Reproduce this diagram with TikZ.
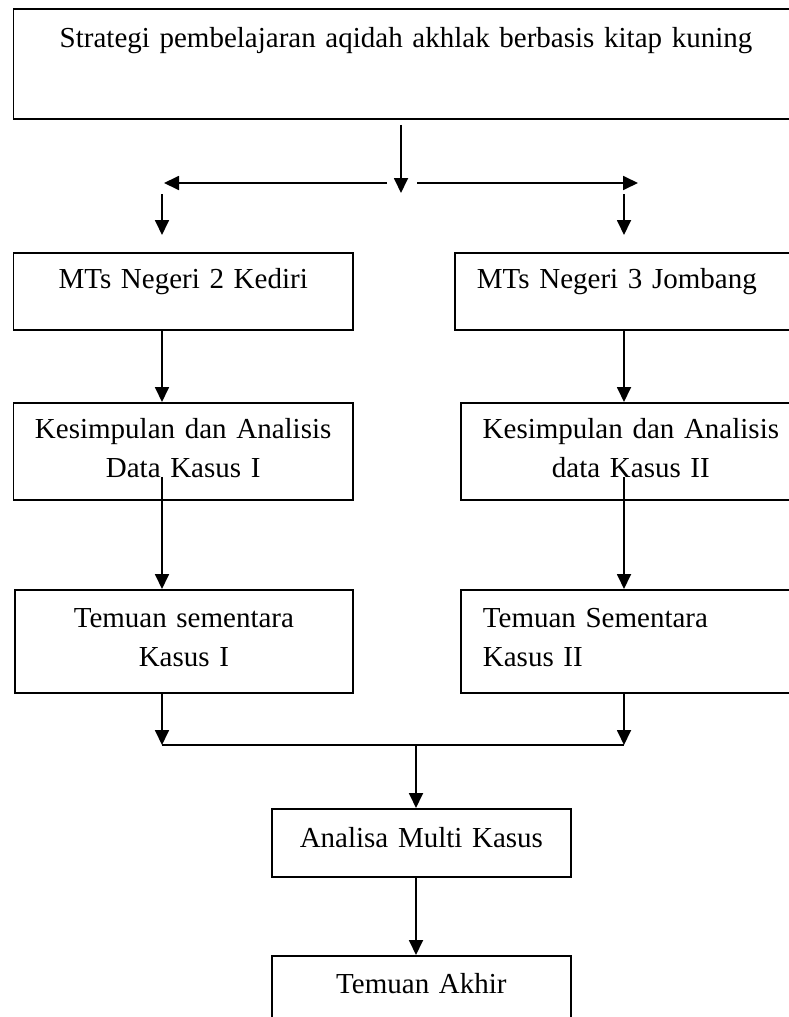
\documentclass[tikz,border=0pt]{standalone}
\usepackage{fontspec}
\setmainfont{Liberation Serif}
\usetikzlibrary{arrows.meta, positioning, calc}

\tikzset{
    box/.style={draw, line width=1.8pt, anchor=north west, inner xsep=0pt, inner ysep=0pt,
        align=center, font=\fontsize{29}{38.5}\selectfont},
    arr/.style={-{Triangle[length=15pt,width=14pt]}, line width=1.8pt},
}

\begin{document}
\begin{tikzpicture}[x=1pt, y=-1pt]
\fill[white] (0,0) rectangle (789,1017);
\useasboundingbox (0,0) rectangle (789,1017);
% Boxes
\node[box, text width=785pt, text height=39pt, text depth=71pt] (strat) at (12.6,8)
    {Strategi pembelajaran aqidah akhlak berbasis kitap kuning};
\node[box, text width=339.4pt, text height=36pt, text depth=41pt] (mtsA) at (12.6,252)
    {MTs Negeri 2 Kediri};
\node[box, text width=302pt, inner xsep=22pt, align=left, text height=36pt, text depth=41pt] (mtsB) at (454,252)
    {MTs Negeri 3 Jombang};
\node[box, text width=339.4pt, text height=36pt, text depth=61pt] (kesA) at (12.6,402)
    {Kesimpulan dan Analisis\\Data Kasus I};
\node[box, text width=340pt, text height=36pt, text depth=61pt] (kesB) at (460,402)
    {Kesimpulan dan Analisis\\data Kasus II};
\node[box, text width=338pt, text height=38pt, text depth=65pt] (temA) at (14,589)
    {Temuan sementara\\Kasus I};
\node[box, text width=296pt, inner xsep=22pt, align=left, text height=38pt, text depth=65pt] (temB) at (460,589)
    {Temuan Sementara\\Kasus II};
\node[box, text width=299pt, text height=39pt, text depth=29pt] (multi) at (271,808)
    {Analisa Multi Kasus};
\node[box, text width=299pt, text height=38pt, text depth=60pt] (akhir) at (271,955)
    {Temuan Akhir};

% Split
\coordinate (hub) at (401,183);
\coordinate (splitA) at (164,183);
\coordinate (splitB) at (638,183);
\coordinate (colA) at (162,0);
\coordinate (colB) at (624,0);
\coordinate (merge) at (416,745);
\draw[arr] ([yshift=-5pt]strat.south -| hub) -- ([yshift=-10pt]hub);
\draw[arr] ([xshift=-14pt]hub) -- (splitA);
\draw[arr] ([xshift=16pt]hub) -- (splitB);

% Columns
\foreach \s in {A,B} {
    \draw[arr] ([yshift=-11pt]splitA -| col\s) -- ([yshift=-52pt]splitA -| col\s);
    \draw[arr] (mts\s.south -| col\s) -- (kes\s.north -| col\s);
    \draw[arr] ([yshift=24pt]kes\s.south -| col\s) -- (tem\s.north -| col\s);
    \draw[arr] (tem\s.south -| col\s) -- (merge -| col\s);
}

% Merge
\draw[line width=1.8pt] (merge -| colA) -- (merge -| colB);
\draw[arr] (merge) -- (multi.north -| merge);
\draw[arr] (multi.south -| merge) -- (akhir.north -| merge);
\end{tikzpicture}
\end{document}
